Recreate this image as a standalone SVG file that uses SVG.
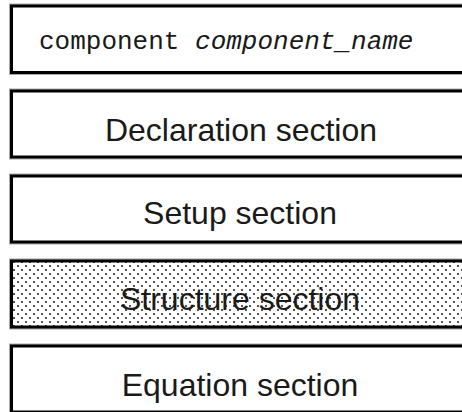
<svg xmlns="http://www.w3.org/2000/svg" width="462" height="412" viewBox="0 0 462 412">
<defs>
<pattern id="dots" x="0" y="0" width="8" height="8" patternUnits="userSpaceOnUse">
<rect width="8" height="8" fill="#fff"/>
<rect x="1" y="1" width="2" height="2" fill="#555"/>
<rect x="5" y="5" width="2" height="2" fill="#555"/>
</pattern>
<style>
.box{fill:#fff;stroke:#000;stroke-width:3}
.halo{fill:none;stroke:#aaa;stroke-width:5}
.lbl{font-family:"Liberation Sans",Arial,sans-serif;font-size:32px;fill:#1a1a1a;text-anchor:middle}
.mono{font-family:"Liberation Mono","Courier New",monospace;font-size:26px;fill:#1a1a1a}
</style>
</defs>
<rect width="462" height="412" fill="#fff"/>
<g id="component_header">
<rect class="halo" x="11.5" y="6" width="480" height="66.5"/>
<rect class="box" x="11.5" y="6" width="480" height="66.5"/>
<text class="mono" x="39" y="49">component <tspan font-style="italic">component_name</tspan></text>
</g>
<g id="declaration_section">
<rect class="halo" x="11.5" y="91" width="480" height="66"/>
<rect class="box" x="11.5" y="91" width="480" height="66"/>
<text class="lbl" x="241" y="141">Declaration section</text>
</g>
<g id="setup_section">
<rect class="halo" x="11.5" y="176" width="480" height="66"/>
<rect class="box" x="11.5" y="176" width="480" height="66"/>
<text class="lbl" x="240" y="224">Setup section</text>
</g>
<g id="structure_section">
<rect class="halo" x="11.5" y="261" width="480" height="66"/>
<rect class="box" x="11.5" y="261" width="480" height="66" style="fill:url(#dots)"/>
<text class="lbl" x="240" y="310">Structure section</text>
</g>
<g id="equation_section">
<rect class="halo" x="11.5" y="346" width="480" height="66"/>
<rect class="box" x="11.5" y="346" width="480" height="66"/>
<text class="lbl" x="240" y="396">Equation section</text>
</g>
<g id="connectors"></g>
</svg>
